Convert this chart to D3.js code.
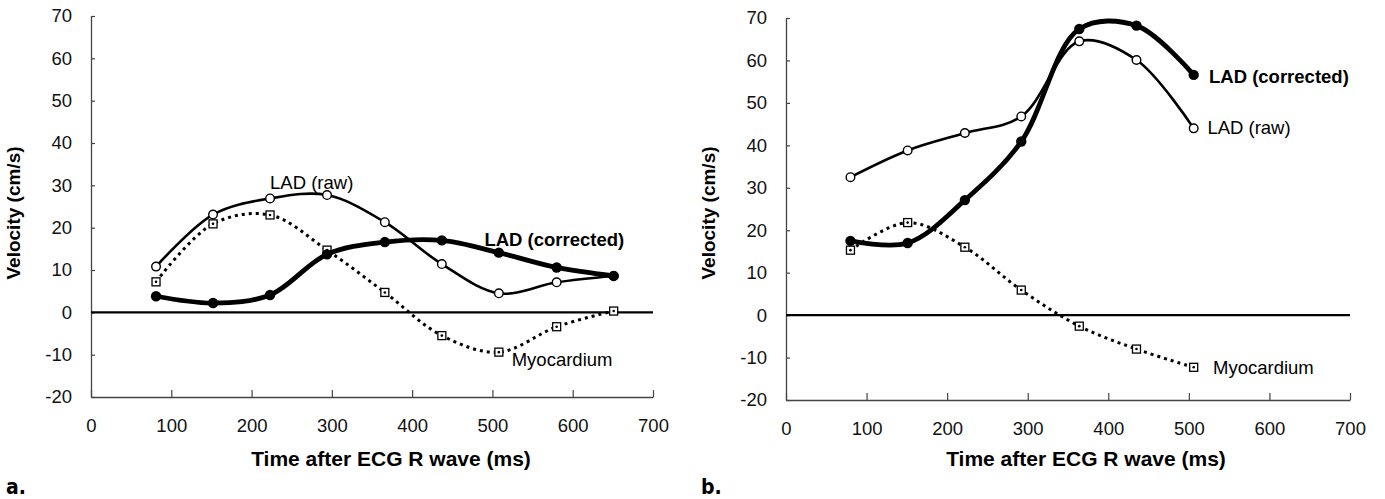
<!DOCTYPE html>
<html>
<head>
<meta charset="utf-8">
<script src="https://cdn.jsdelivr.net/npm/d3@7"></script>
<style>
  body { margin: 0; background: #fff; }
  svg { display: block; font-family: "Liberation Sans", Arial, Helvetica, sans-serif; }
</style>
</head>
<body>
<svg id="chart" width="1385" height="499"></svg>
<script>
// panel a
const timeA = [81, 152, 223, 294, 366, 437, 508, 580, 651];
const rawA = [10.8, 23.1, 26.9, 27.7, 21.3, 11.4, 4.5, 7.1, 8.6];
const corrA = [3.8, 2.2, 4.1, 13.7, 16.6, 17.0, 14.1, 10.6, 8.6];
const myoA = [7.2, 20.9, 23.0, 14.7, 4.7, -5.5, -9.4, -3.4, 0.3];

// panel b
const timeB = [80, 151, 222, 292, 364, 435, 506];
const rawB = [32.5, 38.8, 42.9, 46.8, 64.5, 60.1, 44.0];
const corrB = [17.5, 17.0, 27.1, 40.9, 67.4, 68.2, 56.6];
const myoB = [15.3, 21.8, 16.0, 5.9, -2.6, -8.0, -12.3];

const xTicks = [0, 100, 200, 300, 400, 500, 600, 700];
const yTicks = [-20, -10, 0, 10, 20, 30, 40, 50, 60, 70];

const svg = d3.select("#chart");

function drawPanel(p) {
  const x = d3.scaleLinear().domain([0, 700]).range([p.left, p.right]);
  const y = d3.scaleLinear().domain([-20, 70]).range([p.bottom, p.top]);
  const g = svg.append("g");

  // axes, ticks point inward
  const yAxis = g.append("g")
    .attr("transform", `translate(${p.left},0)`)
    .call(d3.axisLeft(y).tickValues(yTicks).tickFormat(d => String(d))
      .tickSize(-4).tickSizeOuter(0).tickPadding(19));
  const xAxis = g.append("g")
    .attr("transform", `translate(0,${p.bottom})`)
    .call(d3.axisBottom(x).tickValues(xTicks).tickFormat(d => String(d))
      .tickSize(-7).tickSizeOuter(0).tickPadding(22));
  [yAxis, xAxis].forEach(a => {
    a.select(".domain").attr("stroke", "#444").attr("stroke-width", 1.3);
    a.selectAll(".tick line").attr("stroke", "#444").attr("stroke-width", 1.2);
    a.selectAll(".tick text")
      .attr("fill", "#111")
      .style("font-size", "18.5px")
      .style("font-family", "'Liberation Sans', Arial, sans-serif");
  });

  // zero line
  g.append("line")
    .attr("x1", x(0)).attr("x2", x(700))
    .attr("y1", y(0)).attr("y2", y(0))
    .attr("stroke", "#000")
    .attr("stroke-width", 2.4);

  const line = d3.line()
    .x(d => x(d[0]))
    .y(d => y(d[1]))
    .curve(d3.curveCatmullRom.alpha(0.5));

  const raw = p.time.map((t, i) => [t, p.raw[i]]);
  const corr = p.time.map((t, i) => [t, p.corr[i]]);
  const myo = p.time.map((t, i) => [t, p.myo[i]]);

  // myocardium (dotted, squares)
  g.append("path")
    .datum(myo)
    .attr("fill", "none")
    .attr("stroke", "#000")
    .attr("stroke-width", 3)
    .attr("stroke-dasharray", "3,4")
    .attr("d", line);
  g.selectAll(".sq")
    .data(myo)
    .join("rect")
    .attr("x", d => x(d[0]) - 4)
    .attr("y", d => y(d[1]) - 4)
    .attr("width", 8)
    .attr("height", 8)
    .attr("fill", "#fff")
    .attr("stroke", "#000")
    .attr("stroke-width", 1.3);
  g.selectAll(".sqdot")
    .data(myo)
    .join("circle")
    .attr("cx", d => x(d[0]))
    .attr("cy", d => y(d[1]))
    .attr("r", 1.3)
    .attr("fill", "#000");

  // raw LAD (thin, open circles)
  g.append("path")
    .datum(raw)
    .attr("fill", "none")
    .attr("stroke", "#000")
    .attr("stroke-width", 2.6)
    .attr("d", line);

  // corrected LAD (thick, filled)
  g.append("path")
    .datum(corr)
    .attr("fill", "none")
    .attr("stroke", "#000")
    .attr("stroke-width", 4.8)
    .attr("d", line);

  g.selectAll(".open")
    .data(raw)
    .join("circle")
    .attr("cx", d => x(d[0]))
    .attr("cy", d => y(d[1]))
    .attr("r", 4.3)
    .attr("fill", "#fff")
    .attr("stroke", "#000")
    .attr("stroke-width", 1.4);

  g.selectAll(".filled")
    .data(corr)
    .join("circle")
    .attr("cx", d => x(d[0]))
    .attr("cy", d => y(d[1]))
    .attr("r", 5.2)
    .attr("fill", "#000");

  // series labels
  p.labels.forEach(l => {
    g.append("text")
      .attr("x", x(l.t))
      .attr("y", y(l.v))
      .attr("fill", "#000")
      .style("font-size", "18.5px")
      .style("font-weight", l.bold ? "bold" : "normal")
      .text(l.text);
  });

  // axis titles
  g.append("text")
    .attr("x", p.titleX)
    .attr("y", 466)
    .attr("text-anchor", "middle")
    .style("font-size", "21px")
    .style("font-weight", "bold")
    .text("Time after ECG R wave (ms)");

  g.append("text")
    .attr("transform", `translate(${p.left - 71},213) rotate(-90)`)
    .attr("text-anchor", "middle")
    .style("font-size", "19px")
    .style("font-weight", "bold")
    .text("Velocity (cm/s)");

  g.append("text")
    .attr("x", p.left - 85)
    .attr("y", 494)
    .style("font-size", "21px")
    .style("font-weight", "bold")
    .style("font-family", "'DejaVu Sans Condensed', 'Liberation Sans Narrow', sans-serif")
    .text(p.tag);
}

drawPanel({
  left: 91, right: 653, top: 16, bottom: 397, titleX: 391, tag: "a.",
  time: timeA, raw: rawA, corr: corrA, myo: myoA,
  labels: [
    { text: "LAD (raw)", t: 223, v: 29.2, bold: false },
    { text: "LAD (corrected)", t: 490, v: 15.6, bold: true },
    { text: "Myocardium", t: 524, v: -12.6, bold: false }
  ]
});

drawPanel({
  left: 786, right: 1350, top: 18, bottom: 400, titleX: 1086, tag: "b.",
  time: timeB, raw: rawB, corr: corrB, myo: myoB,
  labels: [
    { text: "LAD (corrected)", t: 525, v: 54.8, bold: true },
    { text: "LAD (raw)", t: 523, v: 42.7, bold: false },
    { text: "Myocardium", t: 530, v: -13.9, bold: false }
  ]
});
</script>
</body>
</html>
